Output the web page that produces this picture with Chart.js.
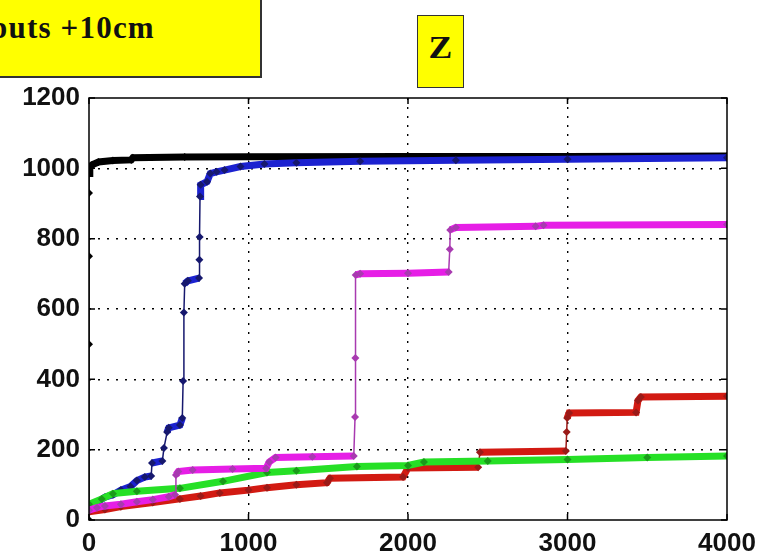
<!DOCTYPE html>
<html>
<head>
<meta charset="utf-8">
<script src="https://cdn.jsdelivr.net/npm/chart.js@4.4.1/dist/chart.umd.min.js"></script>
<style>
  body { margin: 0; background: #fff; }
  #wrap { position: relative; width: 765px; height: 560px; overflow: hidden; }
  .tag {
    position: absolute;
    background: #ffff00;
    font-family: "Liberation Serif", "Times New Roman", serif;
    font-weight: bold;
    color: #111;
    white-space: nowrap;
  }
  #tagLeft {
    left: -4px; top: -4px; width: 264px; height: 80px;
    border-right: 2px solid #333; border-bottom: 2px solid #333;
    font-size: 31px; letter-spacing: 1.2px;
  }
  #tagLeft span { position: absolute; left: -6px; top: 14px; }
  #tagZ {
    left: 417px; top: 15px; width: 45px; height: 71px;
    border: 1.5px solid #333;
    font-size: 31px; text-align: center; line-height: 64px;
  }
  #tagZ span { display: inline-block; transform: scaleX(1.15); }
</style>
</head>
<body>
<div id="wrap">
  <canvas id="zChart"></canvas>
  <div class="tag" id="tagLeft"><span>puts +10cm</span></div>
  <div class="tag" id="tagZ"><span>Z</span></div>
</div>
<script>
// axes
const xTicks = [0, 1000, 2000, 3000, 4000];
const yTicks = [0, 200, 400, 600, 800, 1000, 1200];

// series (x, cumulative value)
const blackX = [0, 0, 0, 0, 0, 5, 20, 60, 150, 265, 275, 600, 1000, 2000, 3000, 4000];
const blackY = [0, 500, 750, 930, 985, 1000, 1010, 1018, 1022, 1024, 1030, 1032, 1033, 1034, 1034, 1035];

const blueX = [0, 50, 100, 150, 200, 260, 300, 350, 390, 395, 460, 470, 490, 500, 570, 585, 590, 595, 600, 620, 690, 692, 694, 696, 700, 740, 760, 800, 850, 950, 1100, 1300, 1700, 2300, 3000, 4000];
const blueY = [40, 50, 65, 72, 85, 95, 112, 122, 125, 162, 168, 205, 250, 262, 270, 290, 395, 590, 672, 680, 688, 740, 805, 920, 953, 962, 985, 990, 995, 1005, 1012, 1016, 1020, 1023, 1026, 1030];

const redX = [0, 100, 200, 400, 570, 700, 820, 1000, 1116, 1300, 1492, 1511, 1969, 2000, 2440, 2451, 2990, 2995, 2998, 3010, 3430, 3442, 3460, 4000];
const redY = [23, 30, 38, 50, 60, 68, 77, 85, 92, 100, 106, 119, 122, 148, 150, 193, 196, 250, 290, 304, 306, 340, 350, 352];

const greenX = [0, 80, 150, 300, 570, 840, 1116, 1300, 1680, 2000, 2100, 2500, 3000, 3500, 4000];
const greenY = [45, 60, 75, 82, 90, 110, 135, 140, 152, 155, 165, 168, 172, 178, 182];

const magentaX = [0, 50, 100, 200, 300, 400, 500, 540, 545, 560, 650, 900, 1110, 1130, 1170, 1400, 1660, 1668, 1670, 1672, 1700, 2000, 2255, 2262, 2265, 2300, 2800, 2850, 4000];
const magentaY = [28, 35, 40, 45, 52, 58, 66, 72, 128, 138, 142, 145, 147, 165, 178, 180, 182, 293, 461, 697, 700, 702, 705, 770, 825, 832, 835, 838, 840];

function pts(xs, ys) {
  return xs.map((x, i) => ({ x: x, y: ys[i] }));
}

function steep(ctx) {
  const dx = Math.abs(ctx.p1.x - ctx.p0.x);
  const dy = Math.abs(ctx.p1.y - ctx.p0.y);
  return dy > 12 && dy > 3 * dx;
}

function series(label, xs, ys, color, dark, order) {
  return {
    label: label,
    data: pts(xs, ys),
    order: order,
    borderColor: color,
    backgroundColor: color,
    borderWidth: 7,
    pointStyle: 'rectRot',
    pointRadius: 4,
    pointBackgroundColor: dark,
    pointBorderColor: dark,
    pointBorderWidth: 0,
    segment: {
      borderWidth: ctx => steep(ctx) ? 1.5 : 7,
      borderColor: ctx => steep(ctx) ? dark : color
    },
    tension: 0,
    fill: false
  };
}

// box round the axes plus small inward ticks, matlab style
const framePlugin = {
  id: 'frame',
  afterDatasetsDraw(chart) {
    const { ctx, chartArea: a, scales } = chart;
    ctx.save();
    ctx.strokeStyle = '#000';
    ctx.lineWidth = 1.5;
    ctx.strokeRect(a.left, a.top, a.right - a.left, a.bottom - a.top);
    ctx.beginPath();
    xTicks.forEach(v => {
      const px = scales.x.getPixelForValue(v);
      ctx.moveTo(px, a.bottom); ctx.lineTo(px, a.bottom - 6);
      ctx.moveTo(px, a.top); ctx.lineTo(px, a.top + 6);
    });
    yTicks.forEach(v => {
      const py = scales.y.getPixelForValue(v);
      ctx.moveTo(a.left, py); ctx.lineTo(a.left + 6, py);
      ctx.moveTo(a.right, py); ctx.lineTo(a.right - 6, py);
    });
    ctx.stroke();
    ctx.restore();
  }
};

const tickFont = { family: '"Liberation Sans", Arial, sans-serif', size: 26, weight: 'bold' };
const hideEdge = (lo, hi) => ctx => (ctx.tick && (ctx.tick.value === lo || ctx.tick.value === hi)) ? 'rgba(0,0,0,0)' : '#000';

new Chart(document.getElementById('zChart'), {
  type: 'line',
  data: {
    datasets: [
      series('magenta', magentaX, magentaY, '#e61ee6', '#a83ab0', 1),
      series('green', greenX, greenY, '#26e026', '#1a9a1a', 2),
      series('red', redX, redY, '#d21a12', '#9a1a18', 3),
      series('blue', blueX, blueY, '#1c22d0', '#16186e', 4),
      series('black', blackX, blackY, '#000000', '#000000', 5)
    ]
  },
  options: {
    responsive: true,
    maintainAspectRatio: false,
    animation: false,
    layout: { padding: { top: 98, right: 38, left: 0, bottom: 0 } },
    plugins: {
      legend: { display: false },
      tooltip: { enabled: false }
    },
    scales: {
      x: {
        type: 'linear',
        min: xTicks[0],
        max: xTicks[xTicks.length - 1],
        afterFit: s => { s.height = 40; },
        border: { display: false, dash: [2, 7] },
        grid: {
          color: hideEdge(0, 4000),
          lineWidth: 1.4,
          drawTicks: false
        },
        ticks: {
          stepSize: 1000,
          color: '#111',
          font: tickFont,
          padding: 8,
          maxRotation: 0,
          callback: v => String(v)
        }
      },
      y: {
        type: 'linear',
        min: yTicks[0],
        max: yTicks[yTicks.length - 1],
        afterFit: s => { s.width = 89; },
        border: { display: false, dash: [2, 7] },
        grid: {
          color: hideEdge(0, 1200),
          lineWidth: 1.4,
          drawTicks: false
        },
        ticks: {
          stepSize: 200,
          color: '#111',
          font: tickFont,
          padding: 9,
          callback: v => String(v)
        }
      }
    }
  },
  plugins: [framePlugin]
});
</script>
</body>
</html>
